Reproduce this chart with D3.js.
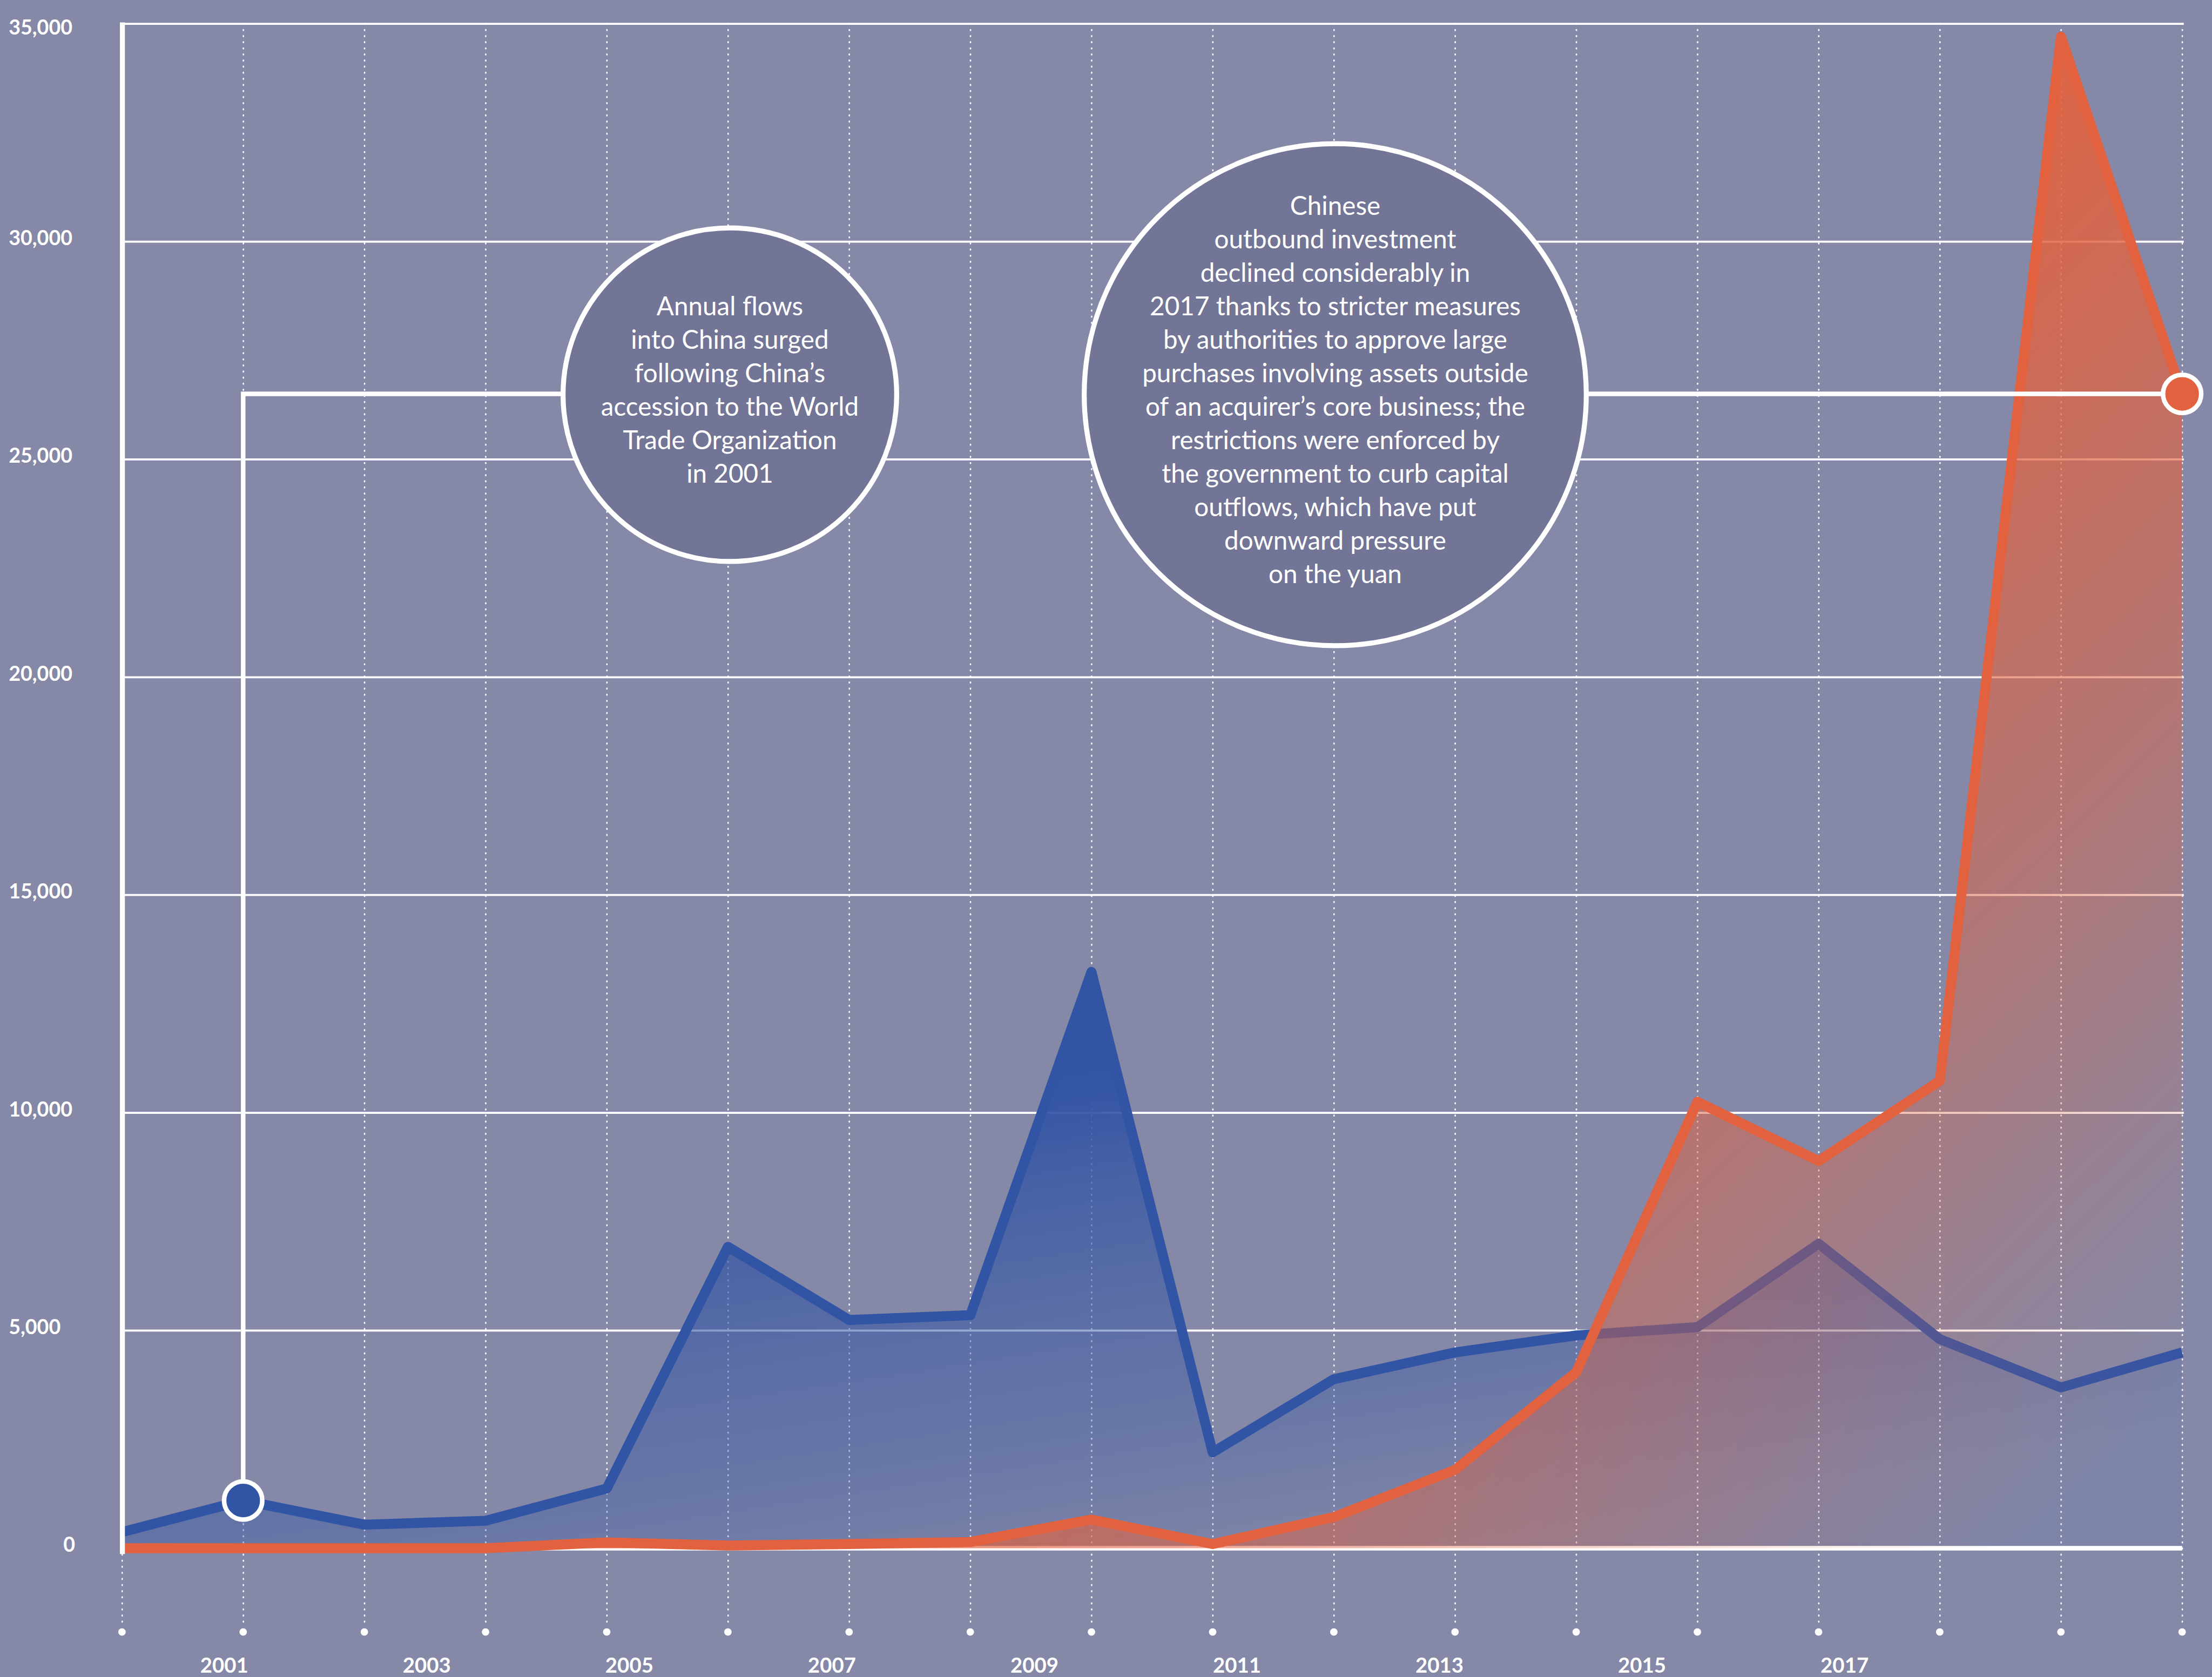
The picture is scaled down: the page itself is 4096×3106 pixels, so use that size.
<!DOCTYPE html>
<html>
<head>
<meta charset="utf-8">
<script src="https://cdn.jsdelivr.net/npm/d3@7"></script>
<style>
  body { margin: 0; background: #8589a7; }
  svg { display: block; }
  text { font-family: Lato, "Open Sans", sans-serif; fill: #fff; }
</style>
</head>
<body>
<div class="chart"></div>
<script>
// annual investment flows, US$ millions
const years = d3.range(2000, 2018);
const intoChina = [370, 1095, 540, 630, 1370, 6920, 5240, 5350, 13230, 2200, 3880, 4495, 4885, 5075, 6990, 4800, 3690, 4495];
const outOfChina = [0, 0, 0, 0, 133, 62, 95, 143, 657, 95, 714, 1800, 4040, 10250, 8890, 10730, 34700, 26500];
const yTicks = [0, 5000, 10000, 15000, 20000, 25000, 30000, 35000];
const yearLabels = [2001, 2003, 2005, 2007, 2009, 2011, 2013, 2015, 2017];

const noteInto = ["Annual flows", "into China surged", "following China\u2019s",
  "accession to the World", "Trade Organization", "in 2001"];
const noteOut = ["Chinese", "outbound investment", "declined considerably in",
  "2017 thanks to stricter measures", "by authorities to approve large",
  "purchases involving assets outside", "of an acquirer\u2019s core business; the",
  "restrictions were enforced by", "the government to curb capital",
  "outflows, which have put", "downward pressure", "on the yuan"];

// drawn in reference pixels, the viewBox shrinks it to the window (0.768)
const W = 5331, H = 4042;
const plot = { left: 294, right: 5259, top: 57, zero: 3732, bottom: 3920 };

const bg = "#8589a7";
const blue = "#3254a5";
const orange = "#e2623f";
const bubble = "#727596";

const svg = d3.select(".chart")
    .append("svg")
    .attr("width", 4096)
    .attr("height", 3106)
    .attr("viewBox", "0 0 " + W + " " + H)
    .attr("preserveAspectRatio", "xMinYMin meet");

svg.append("rect").attr("width", W).attr("height", H).attr("fill", bg);

const x = d3.scaleLinear().domain([2000, 2017]).range([plot.left, plot.right]);
const y = d3.scaleLinear().domain([0, 35000]).range([plot.zero, plot.top]);
// year labels sit on their own spacing in the original, not under the ticks
const xLabel = d3.scaleLinear().domain([2001, 2017]).range([540, 4445]);

// gradients
const defs = svg.append("defs");
function addGradient(id, color, from, to, stops) {
  const g = defs.append("linearGradient")
      .attr("id", id)
      .attr("x1", from[0]).attr("y1", from[1])
      .attr("x2", to[0]).attr("y2", to[1]);
  g.selectAll("stop")
      .data(stops)
      .enter()
      .append("stop")
      .attr("offset", d => d[0])
      .attr("stop-color", color)
      .attr("stop-opacity", d => d[1]);
}
addGradient("blueFill", blue, [0.169, 0.307], [0.57, 1.036],
  [[0, 1], [0.08, 0.95], [0.25, 0.72], [0.48, 0.5], [0.63, 0.4], [0.88, 0.16], [1, 0.08]]);
addGradient("orangeFill", orange, [0.62, 0.46], [1.07, 0.8],
  [[0, 0.92], [0.5, 0.5], [0.85, 0.12], [1, 0]]);

// horizontal grid
const yGrid = svg.append("g")
    .attr("transform", "translate(" + plot.left + ",0)")
    .call(d3.axisRight(y).tickValues(yTicks.filter(d => d > 0))
      .tickSize(plot.right + 4 - plot.left).tickFormat(""));
yGrid.select(".domain").remove();
yGrid.selectAll("line").attr("stroke", "#fff").attr("stroke-width", 5);

// vertical dotted grid
const xGrid = svg.append("g")
    .attr("transform", "translate(0," + plot.top + ")")
    .call(d3.axisBottom(x).tickValues(years)
      .tickSize(plot.bottom - plot.top).tickFormat(""));
xGrid.select(".domain").remove();
xGrid.selectAll("line")
    .attr("stroke", "#fff")
    .attr("stroke-width", 3.5)
    .attr("stroke-linecap", "round")
    .attr("stroke-dasharray", "1.5 13.2");

svg.append("g")
    .selectAll("circle")
    .data(years)
    .enter()
    .append("circle")
    .attr("cx", d => x(d))
    .attr("cy", plot.bottom + 14)
    .attr("r", 9)
    .attr("fill", "#fff");

// y labels
const yAxis = svg.append("g")
    .attr("transform", "translate(21,0)")
    .call(d3.axisRight(y).tickValues(yTicks).tickSize(0).tickPadding(0)
      .tickFormat(d3.format(",")));
yAxis.select(".domain").remove();
yAxis.selectAll(".tick").attr("transform", null);
yAxis.selectAll("text")
    .attr("x", d => d === 0 ? 160 : 0)
    .attr("y", d => Math.max(y(d) + 9, plot.top + 26))
    .attr("dy", null)
    .attr("text-anchor", d => d === 0 ? "end" : "start")
    .attr("fill", "#fff")
    .style("font-size", "49px")
    .style("font-weight", 700)
    .style("font-family", "Lato, sans-serif");

// x labels
const xAxis = svg.append("g")
    .attr("transform", "translate(0,4032)")
    .call(d3.axisBottom(xLabel).tickValues(yearLabels).tickSize(0)
      .tickFormat(d3.format("d")));
xAxis.select(".domain").remove();
xAxis.selectAll("text")
    .attr("y", 0)
    .attr("dy", null)
    .attr("fill", "#fff")
    .style("font-size", "50px")
    .style("font-weight", 700)
    .style("font-family", "Lato, sans-serif");

// series
const rows = years.map((yr, i) => ({ year: yr, into: intoChina[i], out: outOfChina[i] }));

const area = key => d3.area()
    .x(d => x(d.year))
    .y0(y(0))
    .y1(d => y(d[key]));
const line = key => d3.line()
    .x(d => x(d.year))
    .y(d => y(d[key]));

svg.append("path").datum(rows).attr("d", area("into")).attr("fill", "url(#blueFill)");

svg.append("line")
    .attr("x1", plot.left).attr("x2", plot.right)
    .attr("y1", y(0)).attr("y2", y(0))
    .attr("stroke", "#fff").attr("stroke-width", 11);

svg.append("path").datum(rows).attr("d", line("into"))
    .attr("fill", "none").attr("stroke", blue)
    .attr("stroke-width", 24).attr("stroke-linejoin", "round");

svg.append("path").datum(rows).attr("d", area("out")).attr("fill", "url(#orangeFill)");

svg.append("path").datum(rows).attr("d", line("out"))
    .attr("fill", "none").attr("stroke", orange)
    .attr("stroke-width", 24).attr("stroke-linejoin", "round");

// left axis bar
svg.append("line")
    .attr("x1", plot.left + 1).attr("x2", plot.left + 1)
    .attr("y1", plot.top - 3).attr("y2", y(0) + 14)
    .attr("stroke", "#fff").attr("stroke-width", 12);

// annotations
const noteY = y(outOfChina[outOfChina.length - 1]);
const notes = [
  { lines: noteInto, cx: 1759, r: 402, year: 2001, value: intoChina[1], color: blue },
  { lines: noteOut, cx: 3218, r: 605, year: 2017, value: outOfChina[17], color: orange }
];

// connectors
svg.append("path")
    .attr("d", d3.line()([[x(notes[0].year), y(notes[0].value)], [x(notes[0].year), noteY], [notes[0].cx - notes[0].r, noteY]]))
    .attr("fill", "none").attr("stroke", "#fff").attr("stroke-width", 11);
svg.append("path")
    .attr("d", d3.line()([[notes[1].cx + notes[1].r, noteY], [x(notes[1].year), y(notes[1].value)]]))
    .attr("fill", "none").attr("stroke", "#fff").attr("stroke-width", 11);

const lineGap = 80.7;
notes.forEach(function(n) {
  svg.append("circle")
      .attr("cx", n.cx).attr("cy", noteY + 2).attr("r", n.r)
      .attr("fill", bubble).attr("stroke", "#fff").attr("stroke-width", 12);

  svg.append("g")
      .selectAll("text")
      .data(n.lines)
      .enter()
      .append("text")
      .attr("x", n.cx)
      .attr("y", (d, i) => noteY + 12 + (i - (n.lines.length - 1) / 2) * lineGap)
      .attr("text-anchor", "middle")
      .style("font-size", "62px")
      .text(d => d);

  svg.append("circle")
      .attr("cx", x(n.year)).attr("cy", y(n.value)).attr("r", 46)
      .attr("fill", n.color).attr("stroke", "#fff").attr("stroke-width", 11);
});
</script>
</body>
</html>
